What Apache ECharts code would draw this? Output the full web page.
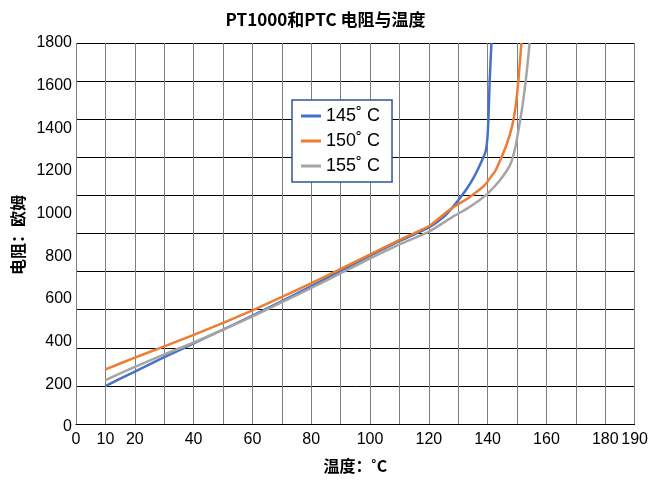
<!DOCTYPE html>
<html><head><meta charset="utf-8">
<script src="https://cdn.jsdelivr.net/npm/echarts@6/dist/echarts.min.js"></script>
<style>html,body{margin:0;padding:0;background:#fff}#c{width:651px;height:482px}</style>
</head><body><div id="c"></div>
<script>
const titleText = 'PT1000和PTC 电阻与温度';
const xName = '温度：˚C';
const yName = '电阻：欧姆';
const seriesNames = ['145˚ C', '150˚ C', '155˚ C'];
const xLabelValues = [0, 10, 20, 40, 60, 80, 100, 120, 140, 160, 180, 190];

const temps145 = [10,20,30,40,50,60,70,80,90,100,110,120,125,128,130,133,135,136.5,138,139.2,139.8,140.2,140.6,141.2];
const ohms145  = [192,260,327,392,457,522,590,660,732,803,872,936,985,1030,1064,1120,1165,1205,1250,1290,1350,1450,1620,1800];

const temps150 = [10,20,30,40,50,60,70,80,90,100,110,120,126,130,133,136,139,141,142.5,144.2,146.5,148.2,149.4,150.4,151.4];
const ohms150  = [270,325,378,432,488,547,610,674,741,809,877,942,1008,1045,1070,1100,1135,1172,1200,1250,1330,1408,1500,1630,1800];

const temps155 = [10,20,30,40,50,60,70,80,90,100,110,120,128,133,137,140,144,147.6,149.3,150.5,151.8,153,154.2];
const ohms155  = [220,282,340,396,456,519,585,652,721,790,856,916,985,1025,1062,1095,1155,1230,1310,1400,1510,1640,1800];

const colors = ['#4472C4', '#ED7D31', '#A5A5A5'];
const numFont = "'Liberation Sans Narrow','Liberation Sans',sans-serif";
const cjkFont = "'Noto Sans CJK SC',sans-serif";

function pairs(xs, ys) { return xs.map((x, i) => [x, ys[i]]); }
const seriesData = [pairs(temps145, ohms145), pairs(temps150, ohms150), pairs(temps155, ohms155)];

const chart = echarts.init(document.getElementById('c'), null, {renderer: 'canvas'});
chart.setOption({
  animation: false,
  backgroundColor: '#fff',
  title: {
    text: titleText, left: 'center', top: 6,
    textStyle: {fontFamily: cjkFont, fontSize: 17, fontWeight: 'bold', color: '#000'}
  },
  legend: {
    orient: 'vertical', left: 292, top: 100,
    data: seriesNames,
    icon: 'rect', itemWidth: 20, itemHeight: 3, itemGap: 7,
    padding: [7, 12, 7, 9],
    backgroundColor: '#fff', borderColor: '#2F5597', borderWidth: 1.5,
    textStyle: {fontFamily: numFont, fontSize: 18, color: '#000'}
  },
  grid: [
    {left: 76, right: 16, top: 43, bottom: 55},
    {left: 76, right: 16, top: 43, bottom: 58}
  ],
  xAxis: [
    {gridIndex: 0, type: 'value', min: 0, max: 190, interval: 10, show: false},
    {gridIndex: 1, type: 'value', min: 0, max: 190, interval: 10,
     axisLine: {show: true, lineStyle: {color: '#000', width: 1}},
     axisTick: {show: false},
     splitLine: {show: true, lineStyle: {color: '#7F7F7F', width: 1}},
     axisLabel: {margin: 8, fontFamily: numFont, fontSize: 16, color: '#000',
       formatter: v => xLabelValues.indexOf(v) >= 0 ? String(v) : ''},
     name: xName, nameLocation: 'middle', nameGap: 34,
     nameTextStyle: {fontFamily: cjkFont, fontSize: 16, fontWeight: 'bold', color: '#000'}}
  ],
  yAxis: [
    {gridIndex: 0, type: 'value', min: 0, max: 1800, interval: 200,
     axisLine: {show: false}, axisTick: {show: false}, splitLine: {show: false},
     axisLabel: {margin: 4, fontFamily: numFont, fontSize: 16, color: '#000', formatter: v => String(v)},
     name: yName, nameLocation: 'middle', nameGap: 50, nameRotate: 90,
     nameTextStyle: {fontFamily: cjkFont, fontSize: 16, fontWeight: 'bold', color: '#000'}},
    {gridIndex: 1, type: 'value', min: 0, max: 1800, interval: 180,
     axisLine: {show: false}, axisTick: {show: false}, axisLabel: {show: false},
     splitLine: {show: true, lineStyle: {color: '#000', width: 1}}}
  ],
  series: seriesNames.map((n, i) => ({
    name: n, type: 'line', xAxisIndex: 0, yAxisIndex: 0,
    data: seriesData[i], symbol: 'none', smooth: 0.2,
    color: colors[i],
    lineStyle: {color: colors[i], width: 2.5}, z: 5
  }))
});
</script></body></html>
